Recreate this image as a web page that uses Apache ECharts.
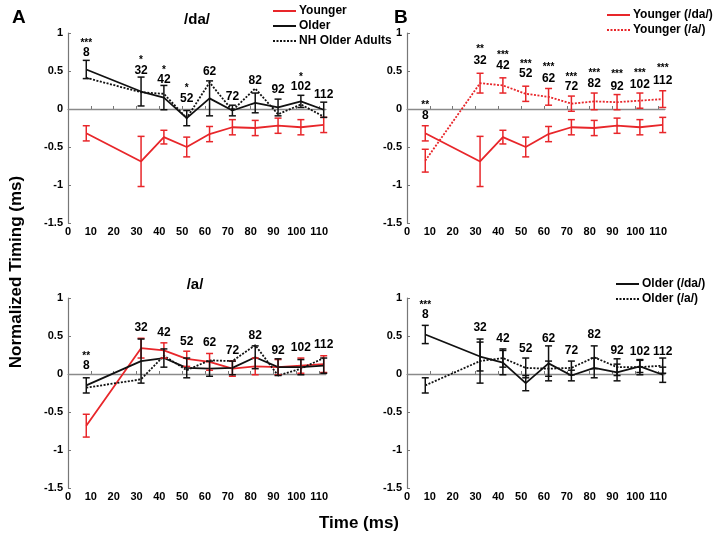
<!DOCTYPE html>
<html><head><meta charset="utf-8">
<script src="https://cdn.jsdelivr.net/npm/echarts@6/dist/echarts.min.js"></script>
<style>html,body{margin:0;padding:0;background:#fff}#c{width:714px;height:543px}</style>
</head><body><div id="c"></div>
<script>
const times = [8, 32, 42, 52, 62, 72, 82, 92, 102, 112];
const xTicks = [0, 10, 20, 30, 40, 50, 60, 70, 80, 90, 100, 110];

// /da/
const youngerDa    = [-0.32, -0.69, -0.37, -0.50, -0.33, -0.24, -0.25, -0.22, -0.24, -0.21];
const youngerDaErr = [0.10, 0.33, 0.09, 0.13, 0.10, 0.10, 0.10, 0.10, 0.10, 0.10];
const olderDa      = [0.52, 0.23, 0.15, -0.12, 0.14, -0.02, 0.08, 0.02, 0.10, -0.01];
const olderDaErr   = [0.12, 0.19, 0.16, 0.10, 0.23, 0.07, 0.13, 0.11, 0.08, 0.10];
const nhDa         = [0.41, 0.22, 0.20, -0.12, 0.35, -0.02, 0.27, -0.07, 0.06, -0.10];
// /a/
const youngerA     = [-0.68, 0.34, 0.31, 0.20, 0.16, 0.07, 0.10, 0.09, 0.11, 0.13];
const youngerAErr  = [0.15, 0.13, 0.10, 0.10, 0.11, 0.10, 0.11, 0.10, 0.10, 0.11];
const olderA       = [-0.15, 0.17, 0.21, 0.08, 0.07, 0.08, 0.22, 0.09, 0.09, 0.11];
const olderAErr    = [0.10, 0.29, 0.12, 0.13, 0.10, 0.09, 0.15, 0.11, 0.10, 0.10];
const nhA          = [-0.18, -0.07, 0.24, 0.05, 0.18, 0.17, 0.38, -0.02, 0.07, 0.21];

// annotation labels (time values shown above points) and significance stars
const labelYA1 = [0.74, 0.50, 0.38, 0.13, 0.49, 0.16, 0.37, 0.25, 0.29, 0.19];
const starsA1  = ['***', '*', '*', '*', '', '', '', '', '*', ''];
const starYA1  = [0.89, 0.67, 0.54, 0.30, 0, 0, 0, 0, 0.45, 0];
const labelYA2 = [0.11, 0.61, 0.55, 0.43, 0.41, 0.31, 0.50, 0.31, 0.35, 0.38];
const starsA2  = ['**', '', '', '', '', '', '', '', '', ''];
const starYA2  = [0.26, 0, 0, 0, 0, 0, 0, 0, 0, 0];
const labelYB1 = [-0.09, 0.64, 0.57, 0.46, 0.40, 0.29, 0.33, 0.29, 0.32, 0.37];
const starsB1  = ['**', '**', '***', '***', '***', '***', '***', '***', '***', '***'];
const starYB1  = [0.08, 0.81, 0.73, 0.62, 0.57, 0.45, 0.50, 0.48, 0.50, 0.56];
const labelYB2 = [0.78, 0.61, 0.46, 0.33, 0.47, 0.31, 0.52, 0.31, 0.30, 0.30];
const starsB2  = ['***', '', '', '', '', '', '', '', '', ''];
const starYB2  = [0.93, 0, 0, 0, 0, 0, 0, 0, 0, 0];

const RED = '#e8262a', BLK = '#111111';
const FONT = '"Liberation Sans", Arial, sans-serif';

const grids = [
  {left: 68, top: 33, width: 258, height: 190},   // A top
  {left: 68, top: 298, width: 258, height: 190},  // A bottom
  {left: 407, top: 33, width: 258, height: 190},  // B top
  {left: 407, top: 298, width: 258, height: 190}  // B bottom
];

const xAxes = grids.map((g, i) => ({
  type: 'value', gridIndex: i, min: 0, max: 113,
  axisLine: {lineStyle: {color: '#777', width: 1.2}},
  axisTick: {inside: true, length: 3, lineStyle: {color: '#777'}, customValues: xTicks},
  axisLabel: {color: '#000', fontWeight: 'bold', fontSize: 11, fontFamily: FONT, margin: 3, customValues: xTicks},
  splitLine: {show: false}
}));
const yAxes = grids.map((g, i) => ({
  type: 'value', gridIndex: i, min: -1.5, max: 1, interval: 0.5,
  axisLine: {show: true, lineStyle: {color: '#777', width: 1.2}},
  axisTick: {show: true, inside: true, length: 3, lineStyle: {color: '#777'}},
  axisLabel: {color: '#000', fontWeight: 'bold', fontSize: 11, fontFamily: FONT, margin: 5},
  splitLine: {show: false}
}));

function lineSeries(name, gi, vals, color, dotted, withZero) {
  const s = {
    type: 'line', name, xAxisIndex: gi, yAxisIndex: gi,
    data: times.map((t, i) => [t, vals[i]]),
    symbol: 'none', showSymbol: false, z: 3,
    lineStyle: {color, width: 1.8, type: dotted ? [2, 1.5] : 'solid'},
    itemStyle: {color}
  };
  if (withZero) {
    s.markLine = {silent: true, symbol: 'none', label: {show: false},
      lineStyle: {color: '#8a8a8a', width: 1.3, type: 'solid'}, data: [{yAxis: 0}], z: 1};
  }
  return s;
}
function errSeries(name, gi, vals, errs, color) {
  return {
    type: 'custom', name, xAxisIndex: gi, yAxisIndex: gi, z: 4,
    data: times.map((t, i) => [t, vals[i] - errs[i], vals[i] + errs[i]]),
    encode: {x: 0, y: [1, 2]},
    renderItem: (params, api) => {
      const x = api.value(0);
      const lo = api.coord([x, api.value(1)]);
      const hi = api.coord([x, api.value(2)]);
      const w = 3.5;
      const st = {stroke: color, lineWidth: 1.5};
      return {type: 'group', children: [
        {type: 'line', shape: {x1: lo[0], y1: lo[1], x2: hi[0], y2: hi[1]}, style: st},
        {type: 'line', shape: {x1: lo[0] - w, y1: lo[1], x2: lo[0] + w, y2: lo[1]}, style: st},
        {type: 'line', shape: {x1: hi[0] - w, y1: hi[1], x2: hi[0] + w, y2: hi[1]}, style: st}
      ]};
    }
  };
}
const labelStyle = (size, offset) => ({
  show: true, position: 'inside', formatter: p => p.name, offset,
  color: '#000', opacity: 1, textBorderWidth: 0, textBorderColor: 'transparent',
  fontWeight: 'bold', fontSize: size, fontFamily: FONT
});
function labelSeries(gi, ys) {
  return {
    type: 'scatter', name: 'labels' + gi, xAxisIndex: gi, yAxisIndex: gi, z: 6,
    symbolSize: 0, itemStyle: {color: '#000', opacity: 1}, silent: true,
    data: times.map((t, i) => ({value: [t, ys[i]], name: String(t)})),
    label: labelStyle(12, [0, 0])
  };
}
function starSeries(gi, stars, ys) {
  const d = [];
  times.forEach((t, i) => { if (stars[i]) d.push({value: [t, ys[i]], name: stars[i]}); });
  return {
    type: 'scatter', name: 'stars' + gi, xAxisIndex: gi, yAxisIndex: gi, z: 6,
    symbolSize: 0, itemStyle: {color: '#000', opacity: 1}, silent: true, data: d,
    label: labelStyle(10, [0, 2])
  };
}

const series = [
  // A top (/da/)
  lineSeries('Younger', 0, youngerDa, RED, false, true),
  lineSeries('Older', 0, olderDa, BLK, false),
  lineSeries('NH Older Adults', 0, nhDa, BLK, true),
  errSeries('Younger err A1', 0, youngerDa, youngerDaErr, RED),
  errSeries('Older err A1', 0, olderDa, olderDaErr, BLK),
  labelSeries(0, labelYA1), starSeries(0, starsA1, starYA1),
  // A bottom (/a/)
  lineSeries('Younger', 1, youngerA, RED, false, true),
  lineSeries('Older', 1, olderA, BLK, false),
  lineSeries('NH Older Adults', 1, nhA, BLK, true),
  errSeries('Younger err A2', 1, youngerA, youngerAErr, RED),
  errSeries('Older err A2', 1, olderA, olderAErr, BLK),
  labelSeries(1, labelYA2), starSeries(1, starsA2, starYA2),
  // B top (younger)
  lineSeries('Younger (/da/)', 2, youngerDa, RED, false, true),
  lineSeries('Younger (/a/)', 2, youngerA, RED, true),
  errSeries('Younger da err B1', 2, youngerDa, youngerDaErr, RED),
  errSeries('Younger a err B1', 2, youngerA, youngerAErr, RED),
  labelSeries(2, labelYB1), starSeries(2, starsB1, starYB1),
  // B bottom (older)
  lineSeries('Older (/da/)', 3, olderDa, BLK, false, true),
  lineSeries('Older (/a/)', 3, olderA, BLK, true),
  errSeries('Older da err B2', 3, olderDa, olderDaErr, BLK),
  errSeries('Older a err B2', 3, olderA, olderAErr, BLK),
  labelSeries(3, labelYB2), starSeries(3, starsB2, starYB2)
];

const legendBase = {
  orient: 'vertical', itemWidth: 23, itemHeight: 10, itemGap: 3, selectedMode: false,
  itemStyle: {opacity: 0},
  textStyle: {color: '#000', fontWeight: 'bold', fontSize: 12, fontFamily: FONT, padding: [0, 0, 0, -2]},
  padding: 0
};
const legends = [
  Object.assign({}, legendBase, {left: 272, top: 5, data: ['Younger', 'Older', 'NH Older Adults']}),
  Object.assign({}, legendBase, {left: 606, top: 9, data: ['Younger (/da/)', 'Younger (/a/)']}),
  Object.assign({}, legendBase, {left: 615, top: 278, data: ['Older (/da/)', 'Older (/a/)']})
];

const txt = (text, x, y, size, extra) => Object.assign({
  type: 'text', left: x, top: y,
  style: {text, fill: '#000', font: 'bold ' + size + 'px ' + FONT}
}, extra || {});

const option = {
  animation: false,
  grid: grids, xAxis: xAxes, yAxis: yAxes, series, legend: legends,
  graphic: [
    txt('A', 12, 8, 19),
    txt('B', 394, 8, 19),
    {type: 'text', x: 197, y: 20, style: {text: '/da/', fill: '#000', font: 'bold 15px ' + FONT, align: 'center', verticalAlign: 'middle'}},
    {type: 'text', x: 195, y: 285, style: {text: '/a/', fill: '#000', font: 'bold 15px ' + FONT, align: 'center', verticalAlign: 'middle'}},
    {type: 'text', x: 16, y: 272, rotation: Math.PI / 2, style: {text: 'Normalized Timing (ms)', fill: '#000', font: 'bold 17px ' + FONT, align: 'center', verticalAlign: 'middle'}},
    {type: 'text', x: 359, y: 523, style: {text: 'Time (ms)', fill: '#000', font: 'bold 17px ' + FONT, align: 'center', verticalAlign: 'middle'}}
  ]
};
const chart = echarts.init(document.getElementById('c'), null, {renderer: 'canvas'});
chart.setOption(option);
</script></body></html>
